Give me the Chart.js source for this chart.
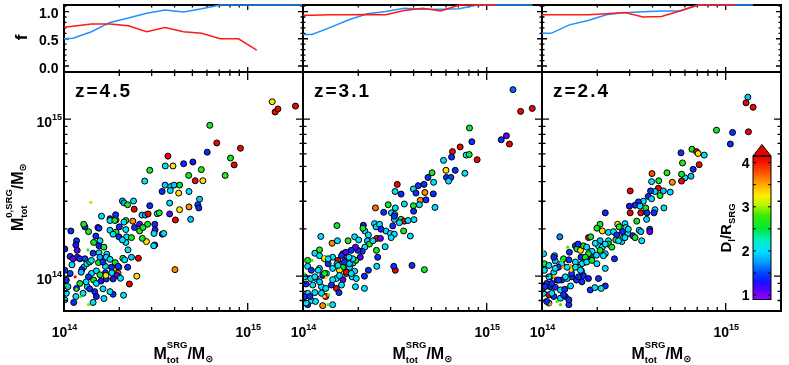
<!DOCTYPE html>
<html><head><meta charset="utf-8">
<script src="https://cdn.jsdelivr.net/npm/chart.js@4/dist/chart.umd.min.js"></script>
<style>
html,body{margin:0;padding:0;background:#fff;}
#wrap{position:relative;width:789px;height:365px;overflow:hidden;background:#fff;}
#wrap canvas{position:absolute;left:0;top:0;}
</style></head><body><div id="wrap"></div>
<script>
// ---------------- DATA ----------------
// masses in units of 1e14 Msun ; [M_tot^SRG, M_tot^0,SRG, D_l/R_SRG]
const zLabels = ['z=4.5', 'z=3.1', 'z=2.4'];
const xTickValues = [1, 10];
const xTickExps = ['14', '15'];
const yTickValues = [1, 10];
const yTickExps = ['14', '15'];
const fTickValues = [0, 0.5, 1.0];
const fTickLabels = ['0.0', '0.5', '1.0'];
const cbTickValues = [1, 2, 3, 4];
const cbTickLabels = ['1', '2', '3', '4'];

const fMassBins = [1.0, 1.12, 1.41, 1.78, 2.24, 2.82, 3.55, 4.47, 5.62, 7.08, 8.91, 11.2, 14.1, 17.8, 20];
const z45FracBlue = [0.50, 0.51, 0.63, 0.80, 0.88, 0.97, 1.03, 0.99, 1.05, 1.12, 1.12, 1.12, 1.12, 1.12, 1.12];
const z45FracRed  = [0.71, 0.73, 0.77, 0.77, 0.74, 0.63, 0.705, 0.63, 0.60, 0.50, 0.50, 0.29, null, null, null];
const z31FracBlue = [0.58, 0.58, 0.71, 0.85, 0.96, 1.00, 1.06, 1.04, 1.04, 1.05, 1.12, 1.12, 1.12, 1.12, null];
const z31FracRed  = [0.93, 0.93, 0.94, 0.94, 0.945, 0.94, 1.02, 1.06, 1.01, 1.12, 1.12, 1.12, null, null, null];
const z24FracBlue = [0.60, 0.60, 0.755, 0.835, 0.94, 0.98, 0.995, 1.01, 1.01, 1.12, 1.12, 1.12, 1.12, null, null];
const z24FracRed  = [0.94, 0.94, 0.94, 0.94, 0.96, 0.98, 0.90, 0.91, 1.01, 1.12, 1.12, 1.12, null, null, null];

const z45Halos = [
[13.6,12.9,3.3],[14.1,11.1,4.1],[14.6,11.6,4.1],[18.2,12.1,4.1],[6.22,9.13,2.6],[6.79,7.05,4.1],[6.02,6.16,1.4],[9.13,6.52,4.1],
[8.06,5.65,2.6],[8.44,5.11,4.1],[7.54,4.38,2.7],[3.68,5.81,4.1],[4.48,5.2,1.4],[5.03,5.33,1.3],[3.56,5.03,2.0],[3.92,5.03,3.3],
[2.93,4.72,2.6],[5.59,4.77,2.7],[4.77,4.38,2.6],[5.18,4.05,4.1],[5.7,4.05,3.3],[2.75,4.03,2.0],[3.55,3.80,1.9],[3.81,3.72,2.0],
[3.97,3.80,1.9],[4.26,3.80,2.5],[3.42,3.46,1.4],[3.79,3.51,2.0],[4.21,3.38,3.3],[4.79,3.46,2.0],[5.47,3.09,1.9],[5.35,2.85,1.5],
[4.79,2.76,3.6],[4.26,2.65,3.3],[4.89,2.30,1.9],[4.04,2.28,4.1],[3.76,2.49,1.1],[3.22,2.50,2.0],[2.93,2.81,1.4],[2.39,3.01,2.0],
[2.08,3.01,1.9],[2.12,2.93,1.8],[2.41,2.67,4.1],[2.66,2.45,2.0],[2.77,2.45,1.8],[2.85,2.14,2.6],[3.12,2.14,1.4],[3.13,1.97,1.1],
[3.09,1.87,2.0],[3.43,1.85,1.4],[3.12,1.58,1.4],[2.81,1.66,3.3],[2.67,1.74,2.6],[2.58,1.94,2.7],[2.42,2.04,1.4],[2.37,2.24,3.6],
[2.17,2.26,2.6],[2.12,2.21,2.0],[1.92,2.28,2.0],[1.91,2.46,1.4],[1.78,2.32,1.4],[1.60,2.41,2.0],[1.53,2.04,1.4],[1.78,1.96,2.0],
[1.92,1.91,2.6],[1.85,1.85,2.0],[1.99,1.78,1.4],[2.19,1.78,2.0],[2.33,1.76,2.6],[2.17,1.64,2.0],[2.23,1.47,2.0],[2.33,1.32,1.9],
[2.09,1.30,2.6],[1.90,1.22,2.6],[1.99,1.14,2.0],[1.97,1.04,3.6],[1.95,1.01,1.1],[1.87,1.12,3.3],[1.81,1.14,1.4],[1.68,1.155,2.0],
[1.68,1.05,1.4],[1.70,0.96,1.4],[1.69,1.01,3.3],[1.85,0.96,1.3],[2.03,0.97,2.0],[1.85,0.767,1.4],[2.11,0.756,2.0],[2.49,1.0,3.3],
[2.27,0.891,4.1],[4.02,1.10,3.6],[1.54,1.22,2.6],[1.50,1.08,2.0],[1.44,1.40,1.4],[1.55,1.41,2.0],[1.57,1.68,2.0],[1.49,1.80,1.4],
[1.45,1.64,2.6],[1.36,1.92,2.6],[1.30,2.06,1.4],[1.55,1.56,1.3],[1.09,1.94,1.4],[1.17,1.68,1.4],[1.16,1.58,1.3],[1.18,1.46,1.1],
[1.18,1.32,1.4],[1.08,1.335,1.4],[1.12,1.29,1.1],[1.22,1.29,1.4],[1.30,1.29,1.5],[1.28,1.14,2.0],[1.25,1.10,1.1],[1.33,1.20,2.0],
[1.38,1.23,2.6],[1.41,1.04,2.0],[1.36,0.99,1.4],[1.45,0.944,2.6],[1.50,0.899,2.0],[1.34,0.857,2.0],[1.47,0.797,1.4],[1.50,0.742,1.3],
[1.44,0.68,2.0],[1.27,0.778,2.0],[1.16,0.742,2.0],[1.03,0.944,1.4],[1.01,1.09,1.4],[1.01,1.49,1.3],[1.03,0.778,2.0],[1.01,0.707,2.0],
[1.22,0.899,2.6],[1.17,0.836,1.4],[1.08,1.04,1.5],[1.24,1.06,1.9],[1.57,1.32,1.8],[1.65,1.53,2.6],[1.71,1.38,2.0],[1.59,0.93,1.3],
[1.78,0.797,2.0],[2.54,1.30,4.1],
[2.22,2.85,2.6],[2.87,2.49,4.1],[3.30,2.53,2.6],[5.42,2.72,1.4],[1.78,2.26,2.0],[1.89,2.26,2.6],[2.58,2.14,1.1],[2.69,2.04,2.6],
[3.49,1.87,2.0],[1.28,2.14,2.6],[1.55,2.02,1.4],[2.00,2.06,1.4],[2.08,1.70,2.0],[3.08,1.56,2.0],[1.41,1.26,2.0],[1.70,1.32,2.0],
[1.97,1.155,1.4],[1.63,1.23,1.4],[1.78,1.28,2.0],[2.14,1.27,2.0],[2.22,1.14,1.4],[1.82,1.05,2.0],[1.57,1.02,2.6],[1.32,0.92,2.0],
[1.38,0.83,1.4],[1.63,0.83,2.0],[1.105,1.18,2.0],[1.05,0.857,1.9],[1.13,0.68,1.4],[1.65,0.72,2.0],[2.17,1.98,2.0],[3.76,2.92,2.0]];
const z45Small = [[1.40,2.95,3.0],[1.35,1.47,2.8],[1.17,0.824,2.8],[1.23,0.742,2.8],[1.36,0.658,2.9],[1.03,0.88,2.7],[1.15,0.99,4.1]];

const z31Halos = [
[13.9,15.4,1.6],[15.3,11.2,4.1],[17.7,11.7,4.1],[8.06,8.78,2.6],[8.30,7.18,1.4],[12.0,7.39,1.4],[12.8,7.83,1.1],[13.3,6.94,4.1],
[7.17,6.65,4.1],[6.51,6.21,4.1],[6.44,5.73,1.4],[7.73,5.90,2.0],[8.03,5.95,2.6],[8.87,5.51,4.1],[5.82,5.46,2.0],[6.0,4.72,3.3],
[6.74,4.72,1.4],[7.61,4.52,2.0],[5.04,4.55,2.6],[4.79,4.25,1.4],[5.14,3.96,2.0],[6.04,4.25,1.4],[6.38,4.25,1.5],[6.2,4.03,2.0],
[4.56,3.84,1.4],[4.24,3.77,1.4],[3.99,3.59,2.0],[4.12,3.38,1.4],[4.61,3.41,3.6],[4.35,3.04,3.6],[5.12,3.34,1.4],[4.67,3.06,1.4],
[3.26,3.84,4.1],[3.17,3.46,2.0],[3.42,3.33,1.4],[2.91,2.85,2.6],[3.18,2.72,2.0],[3.56,2.88,2.0],[3.99,2.81,2.6],[4.0,2.59,1.4],
[5.23,2.74,2.0],[2.48,2.72,3.7],[2.75,2.55,1.4],[3.03,2.53,2.0],[3.16,2.47,1.9],[3.42,2.30,2.6],[3.56,2.24,4.1],[3.73,2.26,2.0],
[4.02,2.29,2.0],[3.14,2.30,2.0],[3.35,2.19,2.0],[3.08,2.09,1.4],[2.83,1.94,2.0],[2.99,1.87,2.0],[3.14,1.85,2.0],[3.53,1.94,2.6],
[3.84,1.80,2.0],[2.13,2.11,1.4],[2.17,1.94,2.0],[2.45,2.16,2.0],[2.50,2.06,1.9],[2.52,1.74,4.1],[2.64,1.74,1.1],[2.80,1.54,2.0],
[2.51,1.46,2.6],[2.55,1.32,1.4],[2.52,1.155,2.0],[2.27,1.83,2.0],[2.24,1.68,1.9],[2.30,1.60,2.6],[2.17,1.53,2.0],[2.10,1.44,1.4],
[2.05,1.32,1.1],[2.27,1.09,1.4],[2.16,1.0,1.4],[2.16,0.836,2.0],[1.93,0.857,2.0],[1.91,1.075,2.0],[1.87,1.21,2.0],[1.94,1.26,2.6],
[1.99,1.46,1.4],[1.93,1.53,1.1],[1.83,1.46,1.4],[1.76,1.68,2.6],[1.53,2.10,2.6],[1.44,1.62,3.6],[1.54,1.68,2.0],[1.25,1.79,2.0],
[1.23,1.47,2.6],[1.06,1.26,2.6],[1.06,1.155,2.0],[1.16,1.40,2.0],[1.65,1.39,1.4],[1.71,1.42,1.1],[1.73,1.27,1.4],[1.79,1.14,2.0],
[1.65,1.14,2.6],[1.55,1.26,4.1],[1.53,1.20,2.0],[1.45,1.12,2.0],[1.37,1.20,1.4],[1.31,1.29,3.3],[1.58,1.09,3.3],[1.72,1.04,2.6],
[1.85,0.99,2.0],[1.65,0.95,1.1],[1.52,0.966,2.0],[1.34,1.04,2.0],[1.28,1.01,1.4],[1.23,1.12,2.0],[1.11,1.09,1.4],[1.02,0.99,2.0],
[1.10,0.966,2.0],[1.18,0.966,2.0],[1.04,0.891,1.4],[1.13,0.878,2.0],[1.26,0.857,2.0],[1.33,0.836,2.0],[1.43,0.878,1.4],[1.52,0.836,4.1],
[1.62,0.878,2.0],[1.57,0.786,1.4],[1.33,0.742,4.1],[1.26,0.778,2.0],[1.16,0.786,2.0],[1.06,0.778,2.0],[1.02,0.742,1.4],[1.11,0.70,2.0],
[1.28,0.649,3.6],[1.45,0.658,2.0],[1.06,0.658,1.4],[3.18,1.09,4.1],[3.12,1.155,1.4],[3.92,1.17,1.4],[4.58,1.10,2.6],[3.02,1.76,2.0],
[1.91,1.78,2.0],[2.01,1.70,2.0],[2.12,2.02,2.6],[2.40,1.68,2.0],[2.61,2.14,2.0],[2.66,1.99,1.4],[3.14,2.41,1.4],[4.30,2.85,2.0],
[1.21,1.09,2.0],[1.31,1.04,2.6],[1.55,1.17,2.0],[1.68,1.23,1.4],[1.79,1.20,1.9],[1.87,1.29,2.0],[1.78,1.32,2.0],[1.62,1.35,1.4],
[1.45,1.32,2.0],[1.37,1.29,2.0],[1.23,1.35,2.0],[1.16,0.99,2.0],[1.23,0.92,1.9],[1.45,0.95,2.0],[1.58,1.01,2.0],[1.72,1.06,4.1],
[1.83,1.04,2.0],[1.95,0.966,2.0],[1.09,0.742,1.4],[1.04,0.674,2.0],[1.17,0.69,2.0]];
const z31Small = [[1.30,1.32,3.3],[1.12,1.26,2.8],[1.31,0.742,3.3],[1.38,0.76,2.8],[1.01,1.04,2.8],[1.34,0.98,3.3],[1.37,0.66,2.8]];

const z24Halos = [
[13.2,13.8,1.9],[12.9,12.7,4.1],[14.1,11.9,4.1],[8.91,8.50,2.6],[10.9,8.22,1.4],[13.3,8.30,4.1],[10.6,6.94,1.4],[5.71,6.10,1.4],
[6.55,6.43,2.6],[6.93,6.21,4.1],[7.08,6.04,3.3],[7.64,5.90,2.0],[5.82,5.26,2.7],[7.17,5.13,4.1],[6.65,4.79,1.4],[6.47,4.33,1.9],
[6.0,4.23,2.0],[5.75,4.46,2.6],[5.75,4.03,4.1],[5.12,3.96,3.6],[4.79,4.55,2.7],[3.97,4.50,3.8],[4.32,4.05,2.6],[3.95,4.0,2.0],
[4.30,3.63,4.1],[4.12,3.46,2.0],[4.58,3.49,1.9],[4.99,3.43,2.0],[3.90,3.49,1.4],[4.39,3.26,2.6],[3.79,3.22,1.4],[3.95,3.11,2.0],
[3.02,3.49,4.1],[3.56,3.0,2.0],[3.35,2.97,1.4],[3.21,2.83,1.4],[2.99,2.79,1.3],[3.42,2.79,2.0],[3.67,2.72,2.6],[4.12,2.65,2.0],
[4.07,2.53,1.4],[4.61,2.72,2.0],[3.02,2.53,4.1],[3.45,2.53,4.1],[3.73,2.53,1.4],[3.71,2.30,2.0],[3.28,2.24,2.6],[2.83,2.16,2.0],
[2.58,2.14,3.3],[2.63,2.06,2.6],[2.86,2.04,2.0],[2.74,1.92,1.4],[2.94,1.87,2.0],[3.12,1.81,1.1],[3.38,1.96,2.0],[3.45,1.92,1.9],
[3.86,1.99,1.4],[3.86,1.92,1.1],[2.21,2.53,1.4],[2.07,2.14,2.6],[1.99,2.02,2.6],[2.13,1.94,3.3],[2.30,1.90,2.0],[2.45,1.92,2.0],
[2.55,1.83,1.4],[2.52,1.70,2.6],[2.72,1.66,2.0],[2.77,1.76,2.0],[2.30,1.68,2.0],[2.07,1.68,1.9],[2.03,1.56,2.0],[2.13,1.53,2.0],
[2.30,1.60,2.6],[2.48,1.29,1.4],[2.21,1.39,2.0],[1.79,1.76,4.1],[1.84,1.78,2.6],[1.25,1.78,1.7],[1.52,1.56,1.4],[1.55,1.49,2.6],
[1.62,1.46,3.3],[1.68,1.56,2.6],[1.75,1.53,2.0],[1.87,1.44,2.0],[1.87,1.32,1.4],[1.75,1.27,4.1],[1.72,1.23,2.0],[1.65,1.20,2.0],
[1.57,1.14,2.6],[1.45,1.12,3.3],[1.37,1.14,2.0],[1.28,1.20,2.0],[1.31,1.29,2.6],[1.17,1.35,2.0],[1.18,1.25,1.9],[1.40,1.27,1.4],
[1.41,1.42,1.4],[1.63,1.32,1.4],[1.52,1.23,2.0],[1.45,0.99,1.4],[1.37,0.966,2.0],[1.28,0.944,1.4],[1.21,0.944,2.0],[1.11,0.99,1.4],
[1.06,0.899,1.4],[1.11,0.857,1.3],[1.18,0.85,1.4],[1.26,0.817,2.0],[1.33,0.824,1.4],[1.43,0.866,2.0],[1.02,0.778,2.0],[1.09,0.76,4.1],
[1.16,0.742,1.4],[1.26,0.724,2.0],[1.34,0.742,1.4],[1.40,0.658,1.4],[1.09,0.674,2.0],[1.02,1.39,2.0],[1.03,1.09,2.0],[1.03,1.20,2.6],
[1.68,1.01,1.4],[1.79,0.966,1.3],[1.83,0.817,1.4],[1.94,0.845,2.0],[2.03,0.966,1.4],[2.21,0.866,1.4],[2.10,0.836,2.0],[2.21,1.12,2.0],
[1.95,1.62,2.0],[1.98,1.36,2.0],[1.79,1.39,2.6],[1.23,1.14,1.4],[1.16,1.06,2.0],[1.54,0.944,1.4],[1.64,1.08,2.0],
[1.57,1.60,1.4],[1.72,1.32,2.6],[1.75,1.23,2.0],[1.87,1.26,2.6],[1.99,1.20,2.0],[1.52,1.14,2.0],[1.62,1.09,2.0],[1.45,1.04,1.4],
[1.58,0.99,1.4],[1.65,0.92,1.4],[1.34,0.99,2.0],[1.23,0.944,1.4],[1.13,0.899,1.4],[1.09,0.99,2.0],[1.04,0.857,1.4],[1.13,0.778,2.0],
[1.31,0.76,1.4],[1.40,0.707,1.4],[1.06,0.69,1.4],[1.18,1.12,2.0],[1.16,1.32,1.4],[1.09,1.17,2.0],[2.40,1.53,2.6],[2.61,1.68,2.0],
[2.21,1.60,2.0],[2.16,1.35,2.0],[2.07,1.46,2.6],[2.95,1.99,2.0],[2.83,1.76,2.0],[3.21,1.76,2.6],[3.49,1.68,2.0]];
const z24Small = [[1.38,1.53,2.8],[1.28,1.25,2.8],[1.30,1.14,3.6],[1.43,1.17,3.6],[1.16,1.0,3.6],[1.11,0.664,3.6],[1.01,1.47,3.3],[1.21,0.69,2.8],[1.26,0.658,2.8],[1.44,1.09,3.3]];

// ---------------- STYLE / LAYOUT ----------------
const X_MIN = 1, X_MAX = 20, Y_MIN = 0.631, Y_MAX = 19.95, F_MIN = -0.11, F_MAX = 1.12;
const CB_MIN = 0.90, CB_MAX = 4.15;
const COLS = [[64, 303], [303, 542], [542, 781]];
const TOP_Y = [5, 72], BOT_Y = [72, 311];
const W = 789, H = 365;
const FF = '"Liberation Sans","DejaVu Sans",Arial,sans-serif';
const xMinor = [2,3,4,5,6,7,8,9];
const yMinor = [0.7,0.8,0.9,2,3,4,5,6,7,8,9];
const fMinor = [-0.1,0.1,0.2,0.3,0.4,0.6,0.7,0.8,0.9,1.1];
const CB_STOPS = [[0.90,[150,0,255]],[1.10,[90,0,255]],[1.30,[20,20,255]],[1.50,[0,70,255]],[1.75,[0,160,255]],[2.00,[0,225,255]],[2.25,[0,240,190]],[2.50,[0,230,60]],[2.80,[60,235,0]],[3.05,[190,245,0]],[3.25,[255,240,0]],[3.50,[255,170,0]],[3.75,[255,90,0]],[4.00,[245,20,0]],[4.15,[230,0,0]]];

function cmap(v){
  if (v <= CB_STOPS[0][0]) return 'rgb(' + CB_STOPS[0][1].join(',') + ')';
  for (let i = 1; i < CB_STOPS.length; i++){
    if (v <= CB_STOPS[i][0]){
      const [v0,c0] = CB_STOPS[i-1], [v1,c1] = CB_STOPS[i];
      const t = (v - v0)/(v1 - v0);
      return 'rgb(' + c0.map((c,k)=>Math.round(c + (c1[k]-c)*t)).join(',') + ')';
    }
  }
  return 'rgb(' + CB_STOPS[CB_STOPS.length-1][1].join(',') + ')';
}
function font(s){ return 'bold ' + s + 'px ' + FF; }
function partWidth(ctx,p){
  ctx.font = font(p.s);
  if (p.t !== undefined) return ctx.measureText(p.t).width;
  return Math.max(p.sup ? ctx.measureText(p.sup).width : 0, p.sub ? ctx.measureText(p.sub).width : 0);
}
function drawRich(ctx, parts, x, y, align){
  const ws = parts.map(p => partWidth(ctx,p));
  const tw = ws.reduce((a,b)=>a+b,0);
  let cx = align === 'center' ? x - tw/2 : align === 'right' ? x - tw : x;
  ctx.textAlign = 'left'; ctx.textBaseline = 'alphabetic'; ctx.fillStyle = '#000';
  parts.forEach((p,i) => {
    ctx.font = font(p.s);
    if (p.t !== undefined) ctx.fillText(p.t, cx, y + (p.dy || 0));
    else { if (p.sup) ctx.fillText(p.sup, cx, y + p.supDy); if (p.sub) ctx.fillText(p.sub, cx, y + p.subDy); }
    cx += ws[i];
  });
}
function pow10(exp){ return [{t:'10', s:14}, {sup:exp, s:9, supDy:-7}]; }

function drawFrame(chart, kind){
  const {ctx, chartArea:a} = chart, sx = chart.scales.x, sy = chart.scales.y;
  const xBig = kind === 'bot' ? 8 : 5, xSmall = kind === 'bot' ? 4 : 2.5;
  const yBig = kind === 'bot' ? 7 : 5, ySmall = kind === 'bot' ? 3.5 : 2.5;
  ctx.save(); ctx.strokeStyle = '#000'; ctx.lineWidth = 1.3; ctx.beginPath();
  const xt = (vals,len) => vals.forEach(v => { const p = sx.getPixelForValue(v); if (p < a.left+1 || p > a.right-1) return;
    ctx.moveTo(p, a.bottom); ctx.lineTo(p, a.bottom-len); ctx.moveTo(p, a.top); ctx.lineTo(p, a.top+len); });
  const yt = (vals,len) => vals.forEach(v => { const p = sy.getPixelForValue(v); if (p < a.top+1 || p > a.bottom-1) return;
    ctx.moveTo(a.left, p); ctx.lineTo(a.left+len, p); ctx.moveTo(a.right, p); ctx.lineTo(a.right-len, p); });
  xt(xTickValues, xBig); xt(xMinor, xSmall);
  if (kind === 'bot'){ yt(yTickValues, yBig); yt(yMinor, ySmall); } else { yt(fTickValues, yBig); yt(fMinor, ySmall); }
  ctx.stroke();
  ctx.lineWidth = 2; ctx.strokeRect(a.left, a.top, a.right-a.left, a.bottom-a.top);
  ctx.restore();
}

function drawColorbar(ctx){
  const x0 = 753, x1 = 771, yTop = 156, yBot = 299.5;
  const vy = v => yBot - (v - CB_MIN)/(CB_MAX - CB_MIN)*(yBot - yTop);
  const g = ctx.createLinearGradient(0, yBot, 0, yTop);
  CB_STOPS.forEach(([v,c]) => g.addColorStop((v - CB_MIN)/(CB_MAX - CB_MIN), 'rgb(' + c.join(',') + ')'));
  ctx.save();
  ctx.fillStyle = g; ctx.fillRect(x0, yTop, x1-x0, yBot-yTop);
  ctx.beginPath(); ctx.moveTo(x0, yTop); ctx.lineTo((x0+x1)/2, 144.5); ctx.lineTo(x1, yTop); ctx.closePath();
  ctx.fillStyle = 'rgb(235,0,0)'; ctx.fill();
  ctx.strokeStyle = '#000'; ctx.lineWidth = 1; ctx.stroke();
  ctx.strokeRect(x0, yTop, x1-x0, yBot-yTop);
  ctx.beginPath();
  for (let v = 1; v <= 4.001; v += 0.5){ const y = vy(v); ctx.moveTo(x0, y); ctx.lineTo(x0+3, y); ctx.moveTo(x1, y); ctx.lineTo(x1-3, y); }
  ctx.stroke();
  cbTickValues.forEach((v,i) => drawRich(ctx, [{t:cbTickLabels[i], s:14}], 749.5, vy(v)+5, 'right'));
  ctx.translate(726, 228); ctx.rotate(-Math.PI/2);
  drawRich(ctx, [{t:'D', s:15}, {sub:'l', s:9.5, subDy:4}, {t:'/R', s:15}, {sub:'SRG', s:9.5, subDy:4}], 0, 5, 'center');
  ctx.restore();
}

function drawLabels(chart, kind, col){
  const {ctx, chartArea:a} = chart, sx = chart.scales.x, sy = chart.scales.y;
  ctx.save();
  if (kind === 'top'){
    if (col === 0){
      fTickValues.forEach((v,i) => drawRich(ctx, [{t:fTickLabels[i], s:14}], 58.5, sy.getPixelForValue(v)+6.5, 'right'));
      ctx.save(); ctx.translate(21, 37.5); ctx.rotate(-Math.PI/2);
      drawRich(ctx, [{t:'f', s:17}], 0, 6, 'center'); ctx.restore();
    }
  } else {
    xTickValues.forEach((v,i) => drawRich(ctx, pow10(xTickExps[i]), sx.getPixelForValue(v)+0.5, 337, 'center'));
    drawRich(ctx, [{t:'M', s:16}, {sup:'SRG', s:9.5, supDy:-11, sub:'tot', subDy:4}, {t:'/M', s:16}, {sub:'\u2299', s:10, subDy:3}],
      (a.left+a.right)/2, 359, 'center');
    ctx.save(); ctx.letterSpacing = '2px';
    drawRich(ctx, [{t:zLabels[col], s:19}], a.left + 11, 97, 'left'); ctx.restore();
    if (col === 0){
      yTickValues.forEach((v,i) => drawRich(ctx, pow10(yTickExps[i]), 62, sy.getPixelForValue(v)+7.5, 'right'));
      ctx.save(); ctx.translate(17, 197); ctx.rotate(-Math.PI/2);
      drawRich(ctx, [{t:'M', s:16}, {sup:'0,SRG', s:9.5, supDy:-11, sub:'tot', subDy:4}, {t:'/M', s:16}, {sub:'\u2299', s:10, subDy:3}], 0, 6, 'center');
      ctx.restore();
    }
    if (col === 2) drawColorbar(ctx);
  }
  ctx.restore();
}

function panelPlugin(kind, col){
  return {
    id: 'panel_' + kind + col,
    beforeDatasetsDraw(chart){ if (kind === 'top') drawFrame(chart, kind); },
    afterDatasetsDraw(chart){ if (kind === 'bot') drawFrame(chart, kind); },
    afterDraw(chart){ drawLabels(chart, kind, col); }
  };
}

const wrap = document.getElementById('wrap');
function makeCanvas(){
  const c = document.createElement('canvas');
  c.width = W; c.height = H; c.style.width = W + 'px'; c.style.height = H + 'px';
  wrap.appendChild(c); return c;
}
function baseOptions(col, yr, yScale){
  return {
    responsive: false, animation: false, devicePixelRatio: 1, events: [],
    layout: { padding: { left: COLS[col][0], right: W - COLS[col][1], top: yr[0], bottom: H - yr[1] } },
    plugins: { legend: { display: false }, tooltip: { enabled: false } },
    scales: { x: { type: 'logarithmic', min: X_MIN, max: X_MAX, display: false }, y: yScale }
  };
}

const halos = [z45Halos, z31Halos, z24Halos];
const smalls = [z45Small, z31Small, z24Small];
const fracBlue = [z45FracBlue, z31FracBlue, z24FracBlue];
const fracRed = [z45FracRed, z31FracRed, z24FracRed];

for (let col = 0; col < 3; col++){
  const toXY = arr => fMassBins.map((m,i) => ({x:m, y:arr[i]}));
  new Chart(makeCanvas(), {
    type: 'line',
    data: { datasets: [
      { data: toXY(fracRed[col]), borderColor: 'rgb(255,25,25)', borderWidth: 1.5, pointRadius: 0, fill: false, tension: 0, clip: false, spanGaps: false },
      { data: toXY(fracBlue[col]), borderColor: 'rgb(30,145,255)', borderWidth: 1.5, pointRadius: 0, fill: false, tension: 0, clip: false, spanGaps: false }
    ]},
    options: baseOptions(col, TOP_Y, { type: 'linear', min: F_MIN, max: F_MAX, display: false }),
    plugins: [panelPlugin('top', col)]
  });
  new Chart(makeCanvas(), {
    type: 'scatter',
    data: { datasets: [
      { data: smalls[col].map(h => ({x:h[0], y:h[1]})), pointRadius: 1.6, pointBorderWidth: 0,
        pointBackgroundColor: smalls[col].map(h => cmap(h[2])), pointBorderColor: 'rgba(0,0,0,0)', clip: 0 },
      { data: halos[col].map(h => ({x:h[0], y:h[1]})), pointRadius: 3, pointBorderWidth: 1,
        pointBackgroundColor: halos[col].map(h => cmap(h[2])), pointBorderColor: '#000', clip: 0 }
    ]},
    options: baseOptions(col, BOT_Y, { type: 'logarithmic', min: Y_MIN, max: Y_MAX, display: false }),
    plugins: [panelPlugin('bot', col)]
  });
}
</script></body></html>
